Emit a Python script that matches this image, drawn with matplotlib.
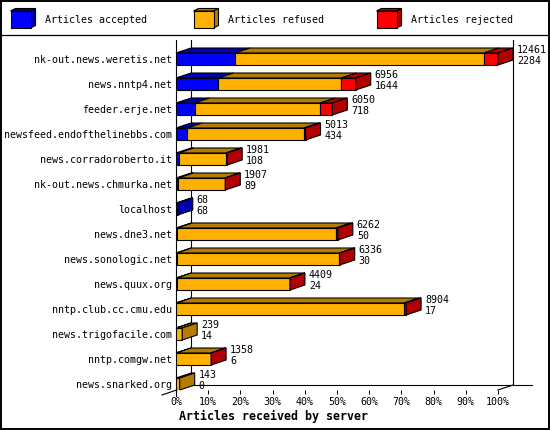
import matplotlib
matplotlib.use('Agg')
from matplotlib import pyplot as plt
from matplotlib.patches import Polygon, Rectangle
import numpy as np

# servers, top to bottom
servers = ['nk-out.news.weretis.net', 'news.nntp4.net', 'feeder.erje.net',
           'newsfeed.endofthelinebbs.com', 'news.corradoroberto.it',
           'nk-out.news.chmurka.net', 'localhost', 'news.dne3.net',
           'news.sonologic.net', 'news.quux.org', 'nntp.club.cc.cmu.edu',
           'news.trigofacile.com', 'nntp.comgw.net', 'news.snarked.org']
totals = [12461, 6956, 6050, 5013, 1981, 1907, 68, 6262, 6336, 4409, 8904, 239, 1358, 143]
accepted = [2284, 1644, 718, 434, 108, 89, 68, 50, 30, 24, 17, 14, 6, 0]
rejected = [545, 560, 465, 65, 55, 8, 0, 75, 10, 10, 80, 0, 5, 0]
refused = [t - a - r for t, a, r in zip(totals, accepted, rejected)]

series_names = ['Articles accepted', 'Articles refused', 'Articles rejected']
front_colors = ['#0000ff', '#ffb000', '#ff0000']
dark_colors = ['#0000b0', '#b47c00', '#b00000']

MONO = 'DejaVu Sans Mono'
FS = 7.2

W, H = 550, 430
fig = plt.figure(figsize=(W / 100, H / 100), dpi=100)

# pixel helper layer for frame and legend
frame = fig.add_axes([0, 0, 1, 1], zorder=0)
frame.set_xlim(0, W)
frame.set_ylim(H, 0)
frame.axis('off')
frame.add_patch(Rectangle((0.5, 0.5), W - 1.5, H - 1.5, fill=False, ec='black', lw=1.4))
frame.plot([0, W], [34.5, 34.5], color='black', lw=0.9)

# legend cubes
leg_x = [10.5, 193.5, 376.5]
for lx, name, fc, dc in zip(leg_x, series_names, front_colors, dark_colors):
    fw, fh, ddx, ddy = 20, 17, 5, 2.5
    x0, y0 = lx, 11
    frame.add_patch(Polygon([(x0, y0), (x0 + fw, y0), (x0 + fw + ddx, y0 - ddy), (x0 + ddx, y0 - ddy)],
                            closed=True, fc=dc, ec='black', lw=0.8))
    frame.add_patch(Polygon([(x0 + fw, y0), (x0 + fw + ddx, y0 - ddy), (x0 + fw + ddx, y0 + fh - ddy),
                             (x0 + fw, y0 + fh)], closed=True, fc=dc, ec='black', lw=0.8))
    frame.add_patch(Rectangle((x0, y0), fw, fh, fc=fc, ec='black', lw=0.8))
    frame.text(lx + 34.5, 20, name, family=MONO, fontsize=FS, va='center', ha='left')

# main axes: x 0..100 % maps to px 176..498, rows 25 px apart starting at y=59
ax = fig.add_axes([176 / W, 1 - 390 / H, 322 / W, 350 / H], zorder=1)
ax.patch.set_visible(False)
ax.set_xlim(0, 100)
ax.set_ylim(13.24, -0.76)
for s in ax.spines.values():
    s.set_visible(False)

PXX = 100 / 322
PXY = 1 / 25
DX, DY = 15 * PXX, 5 * PXY
HB = 6 * PXY

# axis frame lines
lk = dict(color='black', lw=0.8, clip_on=False, zorder=1)
ax.plot([0, 0], [-0.76, 13.48], **lk)
ax.plot([DX, DX], [-0.76, 13.04], **lk)
ax.plot([100 + DX, 100 + DX], [-0.76, 13.04], **lk)
ax.plot([DX, 110.6], [13.04, 13.04], **lk)
ax.plot([-14 * PXX, DX], [13.44, 13.04], **lk)
ax.plot([100, 100 + DX], [13.24, 13.04], **lk)

ax.set_xticks(np.arange(0, 101, 10))
ax.set_xticklabels([f'{v}%' for v in range(0, 101, 10)], family=MONO, fontsize=FS)
ax.tick_params(axis='x', length=3, width=0.7, pad=2)
ax.set_yticks(range(len(servers)))
ax.set_yticklabels(servers, family=MONO, fontsize=FS)
ax.tick_params(axis='y', length=0, pad=3)

# 3D stacked bars, scaled to the largest total
scale = 100 / max(totals)
data = np.array([accepted, refused, rejected], dtype=float) * scale
for i in range(len(servers)):
    left = 0
    last = None
    for k in range(3):
        w = data[k, i]
        if w <= 0:
            continue
        top = i - HB
        ax.add_patch(Polygon([(left, top), (left + w, top), (left + w + DX, top - DY), (left + DX, top - DY)],
                             closed=True, fc=dark_colors[k], ec='black', lw=0.8, zorder=3, clip_on=False))
        ax.barh(i, w, left=left, height=2 * HB, color=front_colors[k], edgecolor='black', lw=0.8, zorder=4)
        left += w
        last = k
    if last is not None:
        ax.add_patch(Polygon([(left, i - HB), (left + DX, i - HB - DY), (left + DX, i + HB - DY), (left, i + HB)],
                             closed=True, fc=dark_colors[last], ec='black', lw=0.8, zorder=5, clip_on=False))
    end = totals[i] * scale + DX + 4 * PXX
    ax.text(end, i - 0.35, str(totals[i]), family=MONO, fontsize=FS, va='center', ha='left', clip_on=False)
    ax.text(end, i + 0.07, str(accepted[i]), family=MONO, fontsize=FS, va='center', ha='left', clip_on=False)

frame.text(179, 416.5, 'Articles received by server', family=MONO, fontsize=8.4,
           fontweight='bold', va='center', ha='left')

fig.savefig('out.png', dpi=100)
